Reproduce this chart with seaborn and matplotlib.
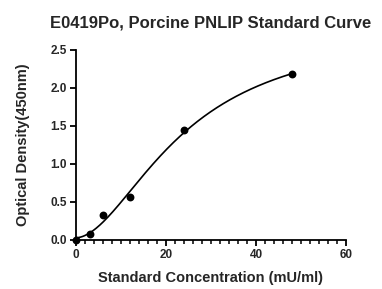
import numpy as np
import pandas as pd
import matplotlib
matplotlib.use("Agg")
import matplotlib.pyplot as plt
import seaborn as sns
from matplotlib.ticker import MultipleLocator

concentration = [0, 3, 6, 12, 24, 48]
od450 = [0.00, 0.08, 0.33, 0.56, 1.45, 2.18]
title = "E0419Po, Porcine PNLIP Standard Curve"
xlabel = "Standard Concentration (mU/ml)"
ylabel = "Optical Density(450nm)"

sns.set_theme(style="ticks")
plt.rcParams['font.family'] = ['Liberation Sans', 'DejaVu Sans']

df = pd.DataFrame({"conc": concentration, "od": od450})

# 4-parameter logistic fit (Levenberg-Marquardt in numpy)
x = np.array(concentration, float)
y = np.array(od450, float)

def f4(p, xx):
    A, B, C, D = p
    r = np.power(np.clip(xx, 0, None) / C, B)
    return D + (A - D) / (1 + r)

p = np.array([0.0, 2.0, 20.0, 2.8])
lam = 1e-2
for _ in range(500):
    res = y - f4(p, x)
    J = np.zeros((len(x), 4))
    for k in range(4):
        dp = np.zeros(4); dp[k] = 1e-6 * max(1.0, abs(p[k]))
        J[:, k] = (f4(p + dp, x) - f4(p - dp, x)) / (2 * dp[k])
    H = J.T @ J
    g = J.T @ res
    step = np.linalg.solve(H + lam * np.diag(np.diag(H) + 1e-9), g)
    pn = p + step
    if pn[2] > 0 and np.sum((y - f4(pn, x))**2) < np.sum(res**2):
        p = pn; lam *= 0.5
    else:
        lam *= 4

xs = np.linspace(0, 48, 300)
curve = pd.DataFrame({"conc": xs, "od": f4(p, xs)})

fig = plt.figure(figsize=(3.82, 2.89), dpi=100)
ax = fig.add_axes([76/382, 1-240/289, 270/382, 190/289])

sns.lineplot(data=curve, x="conc", y="od", ax=ax, color="black", lw=1.2)
sns.scatterplot(data=df, x="conc", y="od", ax=ax, color="black", s=32,
                edgecolor="black", linewidth=0, clip_on=False, zorder=5)

ax.set_xlim(0, 60)
ax.set_ylim(0, 2.5)
ax.xaxis.set_major_locator(MultipleLocator(20))
ax.xaxis.set_minor_locator(MultipleLocator(2))
ax.yaxis.set_major_locator(MultipleLocator(0.5))
ax.yaxis.set_major_formatter(matplotlib.ticker.FormatStrFormatter('%.1f'))
for s in ["top", "right"]:
    ax.spines[s].set_visible(False)
for s in ["left", "bottom"]:
    ax.spines[s].set_linewidth(1.3)
    ax.spines[s].set_color("black")
ax.tick_params(which="major", length=4, width=1.3, color="black", labelsize=8.5, pad=2.5)
ax.tick_params(which="minor", length=3, width=1.1, color="black")
for lab in ax.get_xticklabels() + ax.get_yticklabels():
    lab.set_fontweight("bold")

ax.set_xlabel(xlabel, fontsize=10.5, fontweight="bold", labelpad=7)
ax.set_ylabel(ylabel, fontsize=10.5, fontweight="bold", labelpad=15)
ax.set_title(title, fontsize=12, fontweight="bold", pad=16)

fig.savefig("out.png", dpi=100)
